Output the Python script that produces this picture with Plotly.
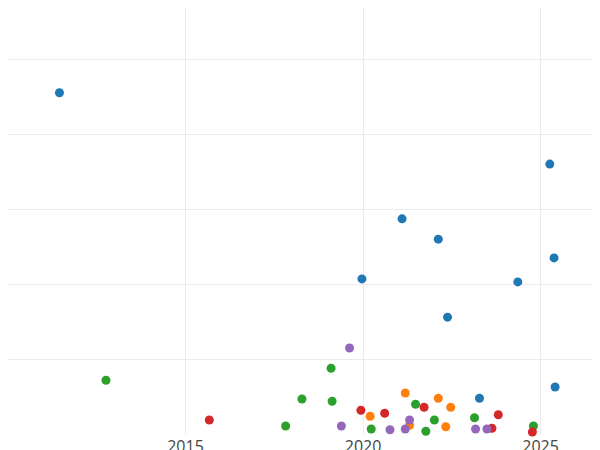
import plotly.graph_objects as go

blue_x = [2011.45, 2025.26, 2021.10, 2022.12, 2025.38, 2019.97, 2024.36, 2022.38, 2023.28, 2025.41]
blue_y = [456, 361, 288, 261, 236, 208, 204, 157, 49, 64]
green_x = [2012.76, 2019.10, 2018.28, 2019.13, 2017.82, 2020.23, 2021.48, 2022.01, 2021.77, 2023.14, 2024.80]
green_y = [73, 89, 48, 45, 12, 8, 41, 20, 5, 23, 12]
red_x = [2015.67, 2019.94, 2020.61, 2021.72, 2023.81, 2023.63, 2024.77]
red_y = [20, 33, 29, 37, 27, 9, 4]
orange_x = [2020.20, 2021.19, 2021.31, 2022.12, 2022.47, 2022.33]
orange_y = [25, 56, 13, 49, 37, 11]
purple_x = [2019.62, 2019.39, 2020.76, 2021.31, 2021.19, 2023.17, 2023.49]
purple_y = [116, 12, 7, 20, 8, 8, 8]

tick_vals = [2010, 2015, 2020, 2025]
tick_text = ["", "2015", "2020", "2025"]

fig = go.Figure()
for xs, ys, c in [(blue_x, blue_y, "#1f77b4"), (green_x, green_y, "#2ca02c"),
                  (red_x, red_y, "#d62728"), (orange_x, orange_y, "#ff7f0e"),
                  (purple_x, purple_y, "#9467bd")]:
    fig.add_trace(go.Scatter(x=xs, y=ys, mode="markers",
                             marker=dict(color=c, size=9), cliponaxis=False))
fig.update_layout(
    template="plotly_white", width=600, height=450, showlegend=False,
    margin=dict(l=0, r=0, t=0, b=23, pad=0, autoexpand=False),
    plot_bgcolor="white",
    font=dict(family="Open Sans", size=16, color="#444"),
    xaxis=dict(range=[2010, 2026.9], tickvals=tick_vals, ticktext=tick_text,
               showgrid=True, gridcolor="#ebebeb", zeroline=False, automargin=False),
    yaxis=dict(range=[0, 569], tickvals=[0, 100, 200, 300, 400, 500],
               showticklabels=False, gridcolor="#ebebeb", zeroline=False, automargin=False),
)
fig.write_html("out.html")
